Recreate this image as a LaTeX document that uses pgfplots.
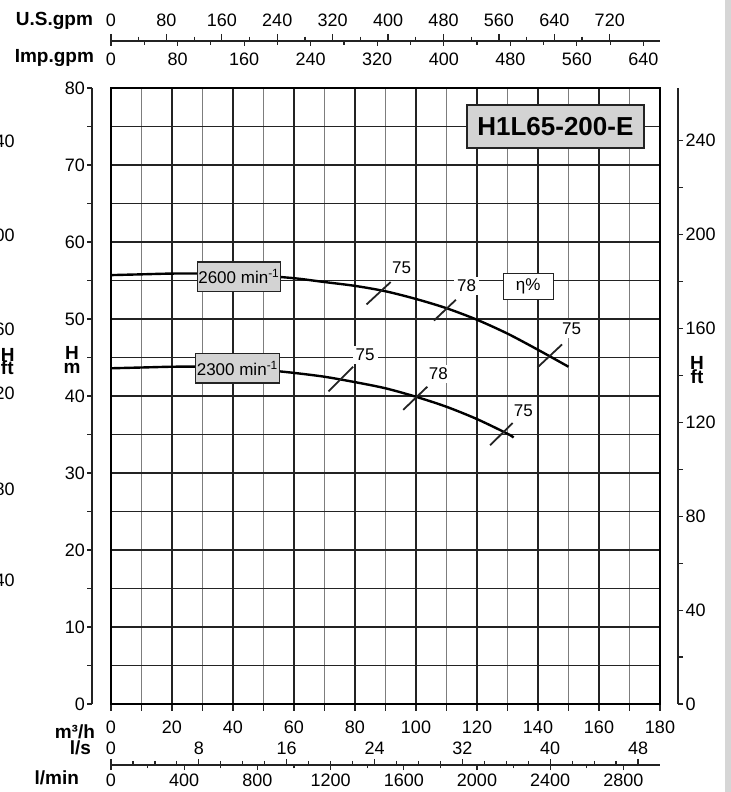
\documentclass[border=0pt]{standalone}
\usepackage{fontspec}
\setmainfont{Liberation Sans}
\usepackage{pgfplots}
\usepackage{pgfplotstable}
\pgfplotsset{compat=1.18}

\definecolor{boxgray}{RGB}{211,211,211}
\definecolor{edgegray}{RGB}{214,214,214}
\definecolor{gridgray}{RGB}{125,125,125}
\definecolor{ink}{RGB}{35,35,35}

\newcommand{\tl}{\fontsize{9}{10}\selectfont}
\newcommand{\ul}{\fontsize{9.5}{10}\selectfont\bfseries}
\newcommand{\cl}{\fontsize{8.5}{9}\selectfont}

% pump curves, Q in m3/h, H in m
\pgfplotstableread{
Q H
0 55.7
10 55.8
20 55.9
30 55.9
40 55.8
50 55.6
60 55.3
70 54.8
80 54.3
90 53.6
100 52.6
110 51.4
120 49.9
130 48.1
140 46.0
150 43.8
}\curveA
\pgfplotstableread{
Q H
0 43.6
10 43.7
20 43.8
30 43.8
40 43.7
50 43.4
60 43.0
70 42.5
80 41.8
90 41.0
100 39.9
110 38.6
120 37.0
130 35.1
132 34.6
}\curveB

\pgfplotsset{
  flowscale/.style={scale only axis, width=274.5pt, height=2pt, ymin=0, ymax=1,
    hide y axis, xmin=0, tick align=outside, scaled x ticks=false,
    /pgf/number format/assume math mode=true, /pgf/number format/1000 sep={},
    tick label style={font=\tl}, axis line style={line width=0.6pt, ink},
    every tick/.style={line width=0.6pt, ink}},
}
\tikzset{
  effmark/.style={ink, line width=0.9pt},
  efflabel/.style={fill=white, inner sep=1.5pt, font=\cl},
}

\begin{document}
\begin{tikzpicture}
\begin{axis}[at={(0,0)}, anchor=south west, scale only axis,
    width=274.5pt, height=308pt,
    xmin=0, xmax=180, ymin=0, ymax=80,
    xtick={0,20,...,180}, minor xtick={10,30,...,170},
    xticklabels={0,20,\raisebox{-1.5pt}{40},60,80,100,120,140,160,180},
    xticklabel style={yshift=-1.5pt},
    xtick pos=bottom, ytick={0,5,...,80}, yticklabels={},
    ytick style={draw=none},
    grid=both, major grid style={ink, line width=0.55pt},
    minor grid style={gridgray, line width=0.55pt},
    tick align=outside, major tick length=3.5pt, minor tick length=3.5pt,
    every tick/.style={ink, line width=0.55pt},
    axis line style={line width=0.9pt, black},
    tick label style={font=\tl},
    clip=false]
  \addplot[black, line width=1.2pt, smooth] table[x=Q, y=H] {\curveA};
  \addplot[black, line width=1.2pt, smooth] table[x=Q, y=H] {\curveB};
  % efficiency labels
  \node[efflabel] at (axis cs:95.3,56.6) {75};
  \node[efflabel] at (axis cs:116.6,54.3) {78};
  \node[efflabel] at (axis cs:151,48.7) {75};
  \node[efflabel] at (axis cs:83.3,45.3) {75};
  \node[efflabel] at (axis cs:107.3,42.9) {78};
  \node[efflabel] at (axis cs:135.2,38.1) {75};
  % efficiency marks
  \addplot[effmark] coordinates {(83.8,51.9) (91.7,54.8)};
  \addplot[effmark] coordinates {(105.9,49.8) (113.1,52.5)};
  \addplot[effmark] coordinates {(139.8,43.7) (147.9,46.7)};
  \addplot[effmark] coordinates {(71.3,40.6) (79.4,43.8)};
  \addplot[effmark] coordinates {(95.8,38.2) (103.7,41.2)};
  \addplot[effmark] coordinates {(124.3,33.6) (131.7,36.5)};
  % boxes
  \node[draw=ink, fill=white, line width=0.6pt, minimum width=25pt, minimum height=13pt,
        inner sep=0pt, font=\cl] at (axis cs:136.8,54.25) {η\%};
  \node[draw=ink, fill=boxgray, line width=0.6pt, minimum width=41.7pt, minimum height=14.7pt,
        inner sep=0.5pt, font=\cl] at (axis cs:42,55.5) {2600 min\textsuperscript{-1}};
  \node[draw=ink, fill=boxgray, line width=0.6pt, minimum width=41.7pt, minimum height=14.7pt,
        inner sep=0.5pt, font=\cl] at (axis cs:41.5,43.6) {2300 min\textsuperscript{-1}};
  \node[draw=ink, fill=boxgray, line width=1pt, minimum width=88.5pt, minimum height=21.5pt,
        inner sep=0pt, font=\fontsize{13}{14}\selectfont\bfseries] at (axis cs:145.7,75) {H1L65-200-E};
\end{axis}

% H m scale on the left
\begin{axis}[at={(-9.5pt,0)}, anchor=south west, scale only axis, width=1pt, height=308pt,
    xmin=0, xmax=1, ymin=0, ymax=80, hide x axis, axis y line*=left,
    ytick={0,10,...,80}, minor ytick={5,15,...,75},
    tick align=outside, major tick length=2.5pt, minor tick length=2.5pt,
    yticklabel style={xshift=2.5pt},
    /pgf/number format/assume math mode=true, tick label style={font=\tl},
    axis line style={line width=0.6pt, ink}, every tick/.style={line width=0.6pt, ink}]
\end{axis}

% H ft scale on the right
\begin{axis}[at={(283.5pt,0)}, anchor=south east, scale only axis, width=1pt, height=308pt,
    xmin=0, xmax=1, ymin=0, ymax=262.467, hide x axis, axis y line*=right,
    ytick={0,40,...,240}, minor y tick num=1,
    tick align=outside, major tick length=2.5pt, minor tick length=2.5pt,
    yticklabel style={xshift=-2.2pt},
    /pgf/number format/assume math mode=true, tick label style={font=\tl},
    axis line style={line width=0.6pt, ink}, every tick/.style={line width=0.6pt, ink}]
\end{axis}

% U.S.gpm above, Imp.gpm below the top line
\begin{axis}[flowscale, at={(0,331.5pt)}, anchor=north west, axis x line*=top,
    xmax=792.517, xtick={0,80,...,720}, minor x tick num=1,
    major tick length=3.5pt, minor tick length=2.2pt]
\end{axis}
\begin{axis}[flowscale, at={(0,331.5pt)}, anchor=south west, axis x line*=bottom,
    xmax=659.907, xtick={0,80,...,640}, minor x tick num=1,
    major tick length=2.5pt, minor tick length=1.8pt]
\end{axis}

% l/s above, l/min below the bottom line
\begin{axis}[flowscale, at={(0,-30.5pt)}, anchor=north west, axis x line*=top,
    xmax=50, xtick={0,8,...,48}, minor x tick num=3,
    xticklabel style={yshift=-1.5pt},
    major tick length=3pt, minor tick length=2pt]
\end{axis}
\begin{axis}[flowscale, at={(0,-30.5pt)}, anchor=south west, axis x line*=bottom,
    xmax=3000, xtick={0,400,...,2800}, minor x tick num=1,
    xticklabel style={yshift=1.5pt},
    major tick length=2.5pt, minor tick length=1.7pt]
\end{axis}

% unit names
\node[anchor=east, font=\ul] at (-5.5pt,341.5pt) {U.S.gpm};
\node[anchor=east, font=\ul] at (-5pt,323pt) {Imp.gpm};
\node[anchor=east, font=\ul] at (-4.5pt,-14pt) {m³/h};
\node[anchor=east, font=\ul] at (-6.5pt,-22pt) {l/s};
\node[anchor=east, font=\ul] at (-12.5pt,-37pt) {l/min};
\node[font=\ul, align=center, inner sep=0pt] at (-19.5pt,172pt) {H\\[-3pt]m};
\node[font=\ul, align=center, inner sep=0pt] at (293pt,167pt) {H\\[-3pt]ft};

% cut-off scale of the neighbouring chart
\begin{scope}[font=\tl]
\node[anchor=east, inner sep=0pt] at (-48pt,281.5pt) {240};
\node[anchor=east, inner sep=0pt] at (-48pt,234.5pt) {200};
\node[anchor=east, inner sep=0pt] at (-48pt,187.5pt) {160};
\node[anchor=east, inner sep=0pt, font=\ul] at (-48pt,174.5pt) {H};
\node[anchor=east, inner sep=0pt, font=\ul] at (-48.5pt,168pt) {ft};
\node[anchor=east, inner sep=0pt] at (-48pt,155.5pt) {120};
\node[anchor=east, inner sep=0pt] at (-48pt,107.5pt) {80};
\node[anchor=east, inner sep=0pt] at (-48pt,62pt) {40};
\end{scope}

\fill[edgegray] (307pt,-44pt) rectangle (310pt,352pt);
\pgfresetboundingbox
\path[use as bounding box] (-55.5pt,-44pt) rectangle (310pt,352pt);
\end{tikzpicture}
\end{document}
